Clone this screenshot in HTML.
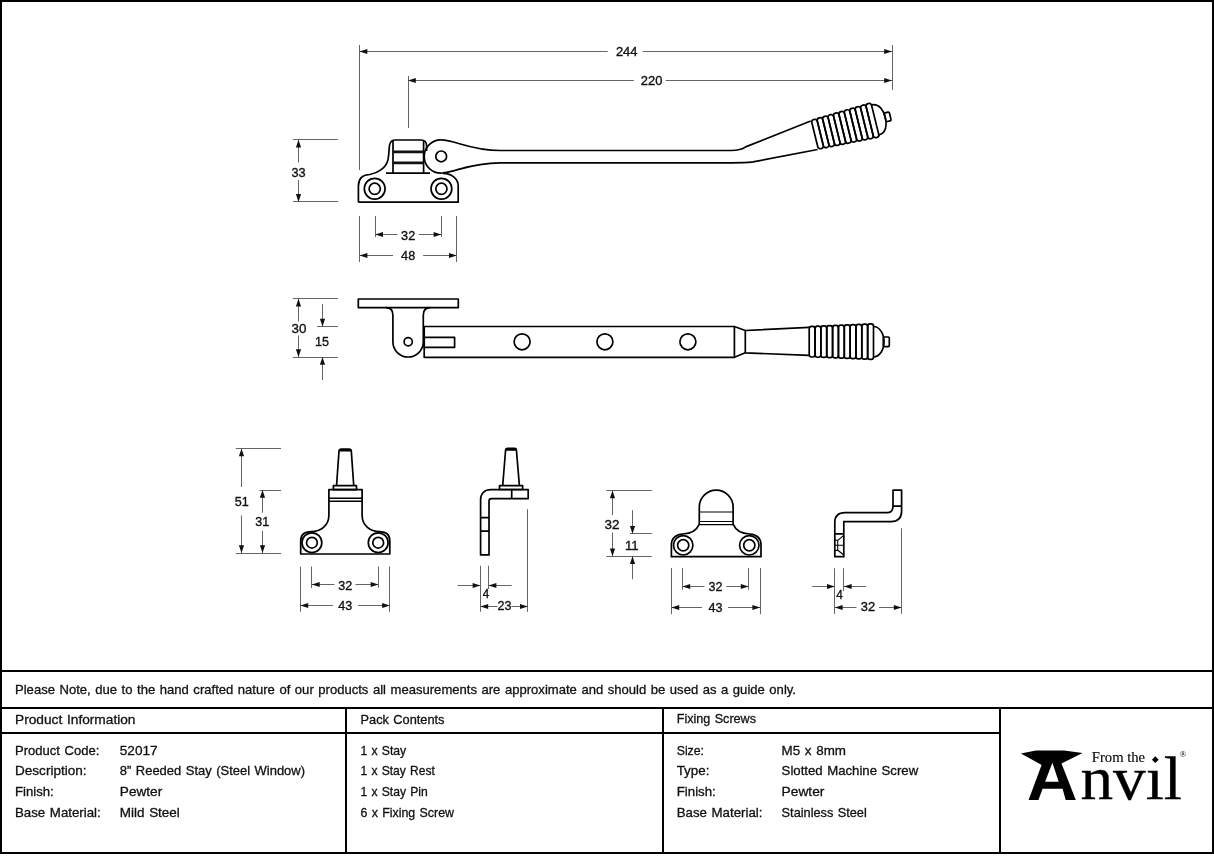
<!DOCTYPE html><html><head><meta charset="utf-8"><style>html,body{margin:0;padding:0;background:#fff;width:1214px;height:858px;overflow:hidden;position:relative}</style></head><body><svg width="1214" height="858" viewBox="0 0 1214 858" style="position:absolute;left:0;top:0;will-change:transform">
<style>.d{font-family:"Liberation Sans",sans-serif;fill:#111;stroke:#111;stroke-width:0.35}.t{font-family:"Liberation Sans",sans-serif;fill:#111;stroke:#111;stroke-width:0.3;font-size:13px;word-spacing:0.9px}.p{fill:none;stroke:#000;stroke-width:1.7;stroke-linejoin:round}</style>
<rect x="0" y="0" width="1214" height="858" fill="#fff"/>
<line x1="359.5" y1="45" x2="359.5" y2="170" stroke="#66665e" stroke-width="1.0"/>
<line x1="408.5" y1="76" x2="408.5" y2="128" stroke="#66665e" stroke-width="1.0"/>
<line x1="892.5" y1="45" x2="892.5" y2="90" stroke="#66665e" stroke-width="1.0"/>
<line x1="359.5" y1="51.5" x2="607.7" y2="51.5" stroke="#66665e" stroke-width="1.0"/>
<line x1="642.8" y1="51.5" x2="892" y2="51.5" stroke="#66665e" stroke-width="1.0"/>
<polygon points="359.50,51.50 367.30,48.90 367.30,54.10" fill="#111"/>
<polygon points="892.00,51.50 884.20,48.90 884.20,54.10" fill="#111"/>
<text x="615.9" y="56" font-size="13.2" textLength="21.600000000000023" lengthAdjust="spacingAndGlyphs" class="d">244</text>
<line x1="408" y1="80.5" x2="633.8" y2="80.5" stroke="#66665e" stroke-width="1.0"/>
<line x1="665.7" y1="80.5" x2="892" y2="80.5" stroke="#66665e" stroke-width="1.0"/>
<polygon points="408.00,80.50 415.80,77.90 415.80,83.10" fill="#111"/>
<polygon points="892.00,80.50 884.20,77.90 884.20,83.10" fill="#111"/>
<text x="640.8" y="84.8" font-size="13.2" textLength="21.600000000000023" lengthAdjust="spacingAndGlyphs" class="d">220</text>
<line x1="292.9" y1="139.5" x2="338.1" y2="139.5" stroke="#66665e" stroke-width="1.0"/>
<line x1="292.9" y1="201.5" x2="338.1" y2="201.5" stroke="#66665e" stroke-width="1.0"/>
<line x1="298.5" y1="139.8" x2="298.5" y2="162.6" stroke="#66665e" stroke-width="1.0"/>
<line x1="298.5" y1="179.9" x2="298.5" y2="201.9" stroke="#66665e" stroke-width="1.0"/>
<polygon points="298.50,139.80 295.90,147.60 301.10,147.60" fill="#111"/>
<polygon points="298.50,201.90 295.90,194.10 301.10,194.10" fill="#111"/>
<text x="291.5" y="176.6" font-size="13.2" textLength="14.199999999999989" lengthAdjust="spacingAndGlyphs" class="d">33</text>
<line x1="359.5" y1="216" x2="359.5" y2="262" stroke="#66665e" stroke-width="1.0"/>
<line x1="375.5" y1="216" x2="375.5" y2="237" stroke="#66665e" stroke-width="1.0"/>
<line x1="441.5" y1="216" x2="441.5" y2="237" stroke="#66665e" stroke-width="1.0"/>
<line x1="456.5" y1="216" x2="456.5" y2="262" stroke="#66665e" stroke-width="1.0"/>
<line x1="375.2" y1="234.5" x2="397.4" y2="234.5" stroke="#66665e" stroke-width="1.0"/>
<line x1="418.7" y1="234.5" x2="441.4" y2="234.5" stroke="#66665e" stroke-width="1.0"/>
<polygon points="375.20,234.50 383.00,231.90 383.00,237.10" fill="#111"/>
<polygon points="441.40,234.50 433.60,231.90 433.60,237.10" fill="#111"/>
<text x="401.1" y="239.6" font-size="13.2" textLength="14.099999999999966" lengthAdjust="spacingAndGlyphs" class="d">32</text>
<line x1="359.6" y1="255.5" x2="393" y2="255.5" stroke="#66665e" stroke-width="1.0"/>
<line x1="423.1" y1="255.5" x2="456.8" y2="255.5" stroke="#66665e" stroke-width="1.0"/>
<polygon points="359.60,255.50 367.40,252.90 367.40,258.10" fill="#111"/>
<polygon points="456.80,255.50 449.00,252.90 449.00,258.10" fill="#111"/>
<text x="401.1" y="259.9" font-size="13.2" textLength="14.099999999999966" lengthAdjust="spacingAndGlyphs" class="d">48</text>
<path class="p" d="M358.4,202.2 H458.2 V186 C458.2,178.5 452,173.8 443,173.4"/>
<path class="p" d="M358.4,202.2 V186 C358.4,178.5 363,174.8 369.8,174.5 C378,173 386,168 388,159.7 C389.5,152 388.8,146 390,143.5 C391,141 392.5,140 395,140 H421 C424.5,140 426.6,142.5 426.6,146 V151"/>
<path class="p" d="M393,141 V173.2 M423.6,141 V173.2 M386,173.2 H430"/>
<path d="M393,151.9 H423.6 M393,162.9 H423.6" stroke="#111" stroke-width="2.6"/>
<circle class="p" cx="374.7" cy="188.8" r="10.4"/><circle class="p" cx="374.7" cy="188.8" r="5.6"/>
<circle class="p" cx="441.4" cy="188.8" r="10.4"/><circle class="p" cx="441.4" cy="188.8" r="5.6"/>
<path class="p" d="M441.2,139.9 A16.6,16.6 0 1 0 442.6,173"/>
<circle class="p" cx="441.2" cy="156.4" r="5.4"/>
<path class="p" d="M441.2,139.9 C455,139.9 470,150.5 500,150.5 H731.3 C737.5,150.5 742,149.6 745.6,146.9 L810.7,121"/>
<path class="p" d="M442.4,172.9 C456,172 470,162.8 500,162.8 H731.3 C741,162.8 748,162.5 753,161.9 L817.6,149.5"/>
<g transform="translate(815.3,134.6) rotate(-13.8)">
<rect class="p" x="-0.50" y="-15.00" width="5.65" height="30.00" rx="2.6" ry="2.6"/>
<rect class="p" x="5.15" y="-15.25" width="5.65" height="30.50" rx="2.6" ry="2.6"/>
<rect class="p" x="10.80" y="-15.50" width="5.65" height="31.00" rx="2.6" ry="2.6"/>
<rect class="p" x="16.45" y="-15.75" width="5.65" height="31.50" rx="2.6" ry="2.6"/>
<rect class="p" x="22.10" y="-16.00" width="5.65" height="32.00" rx="2.6" ry="2.6"/>
<rect class="p" x="27.75" y="-16.25" width="5.65" height="32.50" rx="2.6" ry="2.6"/>
<rect class="p" x="33.40" y="-16.50" width="5.65" height="33.00" rx="2.6" ry="2.6"/>
<rect class="p" x="39.05" y="-16.75" width="5.65" height="33.50" rx="2.6" ry="2.6"/>
<rect class="p" x="44.70" y="-17.00" width="5.65" height="34.00" rx="2.6" ry="2.6"/>
<rect class="p" x="50.35" y="-17.25" width="5.65" height="34.50" rx="2.6" ry="2.6"/>
<rect class="p" x="56.00" y="-17.50" width="5.65" height="35.00" rx="2.6" ry="2.6"/>
<path class="p" d="M61.65,-15.50 C69.53,-15.50 72.15,-6.98 72.15,0 C72.15,6.98 69.53,15.50 61.65,15.50"/>
<rect class="p" x="71.85" y="-4.5" width="5.3" height="9" rx="1.2"/>
</g>
<line x1="292.8" y1="298.5" x2="338" y2="298.5" stroke="#66665e" stroke-width="1.0"/>
<line x1="292.8" y1="357.5" x2="338" y2="357.5" stroke="#66665e" stroke-width="1.0"/>
<line x1="317" y1="326.5" x2="338" y2="326.5" stroke="#66665e" stroke-width="1.0"/>
<line x1="298.5" y1="298.7" x2="298.5" y2="321.5" stroke="#66665e" stroke-width="1.0"/>
<line x1="298.5" y1="335.5" x2="298.5" y2="357" stroke="#66665e" stroke-width="1.0"/>
<polygon points="298.50,298.70 295.90,306.50 301.10,306.50" fill="#111"/>
<polygon points="298.50,357.00 295.90,349.20 301.10,349.20" fill="#111"/>
<text x="291.5" y="332.8" font-size="13.2" textLength="14.899999999999977" lengthAdjust="spacingAndGlyphs" class="d">30</text>
<line x1="322.5" y1="304" x2="322.5" y2="326.5" stroke="#66665e" stroke-width="1.0"/>
<polygon points="322.50,326.50 319.90,318.70 325.10,318.70" fill="#111"/>
<line x1="322.5" y1="357" x2="322.5" y2="380" stroke="#66665e" stroke-width="1.0"/>
<polygon points="322.50,357.00 319.90,364.80 325.10,364.80" fill="#111"/>
<text x="315" y="346" font-size="13.2" textLength="14" lengthAdjust="spacingAndGlyphs" class="d">15</text>
<rect class="p" x="358.3" y="299" width="100" height="8.6"/>
<path class="p" d="M386,307.6 C390.5,307.6 392.9,310.5 392.9,315 V341.8 A15.2,15.2 0 0 0 423.3,341.8 V315 C423.3,310.5 425.7,307.6 430.2,307.6"/>
<circle class="p" cx="408.2" cy="341.8" r="4.1"/>
<path class="p" d="M424.2,326.5 H734.4 V357.3 H424.2 Z"/>
<rect class="p" x="424.2" y="337.4" width="30.4" height="9.9"/>
<circle class="p" cx="522.1" cy="341.8" r="8"/>
<circle class="p" cx="604.9" cy="341.8" r="8"/>
<circle class="p" cx="687.9" cy="341.8" r="8"/>
<path class="p" d="M734.4,326.5 L745.3,330.5 V352.8 L734.4,357.3 M745.3,330.5 L809.2,327.4 M745.3,352.8 L809.2,355.4"/>
<rect class="p" x="809.20" y="326.40" width="5.85" height="30.60" rx="2.4" ry="2.4"/>
<rect class="p" x="815.05" y="326.14" width="5.85" height="31.09" rx="2.4" ry="2.4"/>
<rect class="p" x="820.89" y="325.88" width="5.85" height="31.58" rx="2.4" ry="2.4"/>
<rect class="p" x="826.74" y="325.62" width="5.85" height="32.07" rx="2.4" ry="2.4"/>
<rect class="p" x="832.58" y="325.36" width="5.85" height="32.56" rx="2.4" ry="2.4"/>
<rect class="p" x="838.43" y="325.10" width="5.85" height="33.05" rx="2.4" ry="2.4"/>
<rect class="p" x="844.27" y="324.84" width="5.85" height="33.54" rx="2.4" ry="2.4"/>
<rect class="p" x="850.12" y="324.58" width="5.85" height="34.03" rx="2.4" ry="2.4"/>
<rect class="p" x="855.96" y="324.32" width="5.85" height="34.52" rx="2.4" ry="2.4"/>
<rect class="p" x="861.81" y="324.06" width="5.85" height="35.01" rx="2.4" ry="2.4"/>
<rect class="p" x="867.65" y="323.80" width="5.85" height="35.50" rx="2.4" ry="2.4"/>
<path class="p" d="M873.5,326.5 A10.5,15.25 0 0 1 873.5,357"/>
<rect class="p" x="883.3" y="337" width="6" height="9.6" rx="1"/>
<line x1="235.8" y1="448.5" x2="281" y2="448.5" stroke="#66665e" stroke-width="1.0"/>
<line x1="259.5" y1="490.5" x2="281" y2="490.5" stroke="#66665e" stroke-width="1.0"/>
<line x1="235.8" y1="553.5" x2="281" y2="553.5" stroke="#66665e" stroke-width="1.0"/>
<line x1="241.5" y1="448.4" x2="241.5" y2="487" stroke="#66665e" stroke-width="1.0"/>
<line x1="241.5" y1="515.5" x2="241.5" y2="553.1" stroke="#66665e" stroke-width="1.0"/>
<polygon points="241.50,448.40 238.90,456.20 244.10,456.20" fill="#111"/>
<polygon points="241.50,553.10 238.90,545.30 244.10,545.30" fill="#111"/>
<text x="234.7" y="506.1" font-size="13.2" textLength="14.0" lengthAdjust="spacingAndGlyphs" class="d">51</text>
<line x1="262.5" y1="490" x2="262.5" y2="512.7" stroke="#66665e" stroke-width="1.0"/>
<line x1="262.5" y1="531" x2="262.5" y2="553.1" stroke="#66665e" stroke-width="1.0"/>
<polygon points="262.50,490.00 259.90,497.80 265.10,497.80" fill="#111"/>
<polygon points="262.50,553.10 259.90,545.30 265.10,545.30" fill="#111"/>
<text x="255.2" y="525.5" font-size="13.2" textLength="14.0" lengthAdjust="spacingAndGlyphs" class="d">31</text>
<path class="p" d="M300.7,554 H389.8 V541 C389.8,535 386,531.7 379.5,531.7 C370.5,531.7 362.1,526 362.1,515 V489.6 H328.9 V515 C328.9,526 320.5,531.7 311.2,531.7 C304.5,531.7 300.7,535 300.7,541 Z"/>
<path d="M328.9,498.2 H362.1 M328.9,501.3 H362.1" stroke="#000" stroke-width="1.4"/>
<rect class="p" x="333.4" y="485.7" width="23.1" height="3.9"/>
<path class="p" d="M336.6,485 L339,451 Q339.2,449.1 341.2,449.1 H349.1 Q351.1,449.1 351.3,451 L353.7,485 M339.1,450.6 H351.2"/>
<circle class="p" cx="311.9" cy="542.7" r="9.9"/><circle class="p" cx="311.9" cy="542.7" r="5.4"/>
<circle class="p" cx="378.2" cy="542.7" r="9.9"/><circle class="p" cx="378.2" cy="542.7" r="5.4"/>
<line x1="300.5" y1="566.5" x2="300.5" y2="611.8" stroke="#66665e" stroke-width="1.0"/>
<line x1="389.5" y1="566.5" x2="389.5" y2="611.8" stroke="#66665e" stroke-width="1.0"/>
<line x1="311.5" y1="566.5" x2="311.5" y2="588" stroke="#66665e" stroke-width="1.0"/>
<line x1="378.5" y1="566.5" x2="378.5" y2="588" stroke="#66665e" stroke-width="1.0"/>
<line x1="311.9" y1="584.5" x2="334.5" y2="584.5" stroke="#66665e" stroke-width="1.0"/>
<line x1="355.5" y1="584.5" x2="378.5" y2="584.5" stroke="#66665e" stroke-width="1.0"/>
<polygon points="311.90,584.50 319.70,581.90 319.70,587.10" fill="#111"/>
<polygon points="378.50,584.50 370.70,581.90 370.70,587.10" fill="#111"/>
<text x="338.2" y="590" font-size="13.2" textLength="14.0" lengthAdjust="spacingAndGlyphs" class="d">32</text>
<line x1="300.4" y1="605.5" x2="333" y2="605.5" stroke="#66665e" stroke-width="1.0"/>
<line x1="358" y1="605.5" x2="389.9" y2="605.5" stroke="#66665e" stroke-width="1.0"/>
<polygon points="300.40,605.50 308.20,602.90 308.20,608.10" fill="#111"/>
<polygon points="389.90,605.50 382.10,602.90 382.10,608.10" fill="#111"/>
<text x="338.2" y="610" font-size="13.2" textLength="14.0" lengthAdjust="spacingAndGlyphs" class="d">43</text>
<path class="p" d="M480.6,554.9 V500 C480.6,493.5 484.5,489.6 491,489.6 H528.2 V498.6 H491.5 Q489,498.6 489,501.1 V554.9 Z"/>
<path class="p" d="M511.7,489.6 V498.6 M480.6,517.6 H489 M480.6,531.2 H489"/>
<rect class="p" x="499.5" y="485.6" width="23.1" height="3.9"/>
<path class="p" d="M502.7,485.7 L505.6,450 Q505.8,448.4 507.5,448.4 H514.6 Q516.3,448.4 516.4,450 L519.4,485.7 M505.7,449.8 H516.3"/>
<line x1="480.5" y1="565.8" x2="480.5" y2="611.9" stroke="#66665e" stroke-width="1.0"/>
<line x1="488.5" y1="565.8" x2="488.5" y2="589" stroke="#66665e" stroke-width="1.0"/>
<line x1="527.5" y1="509.2" x2="527.5" y2="611.9" stroke="#66665e" stroke-width="1.0"/>
<line x1="457.6" y1="585.5" x2="480.4" y2="585.5" stroke="#66665e" stroke-width="1.0"/>
<polygon points="480.40,585.50 472.60,582.90 472.60,588.10" fill="#111"/>
<line x1="488.6" y1="585.5" x2="511.7" y2="585.5" stroke="#66665e" stroke-width="1.0"/>
<polygon points="488.60,585.50 496.40,582.90 496.40,588.10" fill="#111"/>
<text x="482.7" y="598" font-size="13.2" textLength="6.5" lengthAdjust="spacingAndGlyphs" class="d">4</text>
<line x1="480.4" y1="606.5" x2="497.4" y2="606.5" stroke="#66665e" stroke-width="1.0"/>
<line x1="511.5" y1="606.5" x2="527.8" y2="606.5" stroke="#66665e" stroke-width="1.0"/>
<polygon points="480.40,606.50 488.20,603.90 488.20,609.10" fill="#111"/>
<polygon points="527.80,606.50 520.00,603.90 520.00,609.10" fill="#111"/>
<text x="497.5" y="610.3" font-size="13.2" textLength="14.0" lengthAdjust="spacingAndGlyphs" class="d">23</text>
<line x1="606.4" y1="490.5" x2="651.8" y2="490.5" stroke="#66665e" stroke-width="1.0"/>
<line x1="630" y1="533.5" x2="651.8" y2="533.5" stroke="#66665e" stroke-width="1.0"/>
<line x1="606.4" y1="556.5" x2="651.8" y2="556.5" stroke="#66665e" stroke-width="1.0"/>
<line x1="612.5" y1="490.4" x2="612.5" y2="515" stroke="#66665e" stroke-width="1.0"/>
<line x1="612.5" y1="532.5" x2="612.5" y2="556.2" stroke="#66665e" stroke-width="1.0"/>
<polygon points="612.50,490.40 609.90,498.20 615.10,498.20" fill="#111"/>
<polygon points="612.50,556.20 609.90,548.40 615.10,548.40" fill="#111"/>
<text x="604.6" y="528.5" font-size="13.2" textLength="14.899999999999977" lengthAdjust="spacingAndGlyphs" class="d">32</text>
<line x1="632.5" y1="510.2" x2="632.5" y2="533.8" stroke="#66665e" stroke-width="1.0"/>
<polygon points="632.50,533.80 629.90,526.00 635.10,526.00" fill="#111"/>
<line x1="632.5" y1="556.2" x2="632.5" y2="579.2" stroke="#66665e" stroke-width="1.0"/>
<polygon points="632.50,556.20 629.90,564.00 635.10,564.00" fill="#111"/>
<text x="625" y="549.5" font-size="13.2" textLength="13.700000000000045" lengthAdjust="spacingAndGlyphs" class="d">11</text>
<path class="p" d="M671.4,556.7 H761 V545 C761,538.5 757,534.5 749.5,534 C742.5,533.8 736,531 733.1,524.2 V507 A16.9,16.9 0 0 0 699.3,507 V524.2 C696.4,531 690,533.8 683,534 C675.5,534.5 671.4,538.5 671.4,545 Z"/>
<path d="M699.3,512 H733.1 M699.3,521.5 H733.1 M699.3,524.6 H733.1" stroke="#000" stroke-width="1.15"/>
<circle class="p" cx="683.2" cy="545.3" r="9.7"/><circle class="p" cx="683.2" cy="545.3" r="5.6"/>
<circle class="p" cx="749.3" cy="545.3" r="9.7"/><circle class="p" cx="749.3" cy="545.3" r="5.6"/>
<line x1="671.5" y1="567.9" x2="671.5" y2="614.2" stroke="#66665e" stroke-width="1.0"/>
<line x1="760.5" y1="567.9" x2="760.5" y2="614.2" stroke="#66665e" stroke-width="1.0"/>
<line x1="682.5" y1="567.9" x2="682.5" y2="589.7" stroke="#66665e" stroke-width="1.0"/>
<line x1="748.5" y1="567.9" x2="748.5" y2="589.7" stroke="#66665e" stroke-width="1.0"/>
<line x1="682.4" y1="586.5" x2="704.5" y2="586.5" stroke="#66665e" stroke-width="1.0"/>
<line x1="726.3" y1="586.5" x2="748.6" y2="586.5" stroke="#66665e" stroke-width="1.0"/>
<polygon points="682.40,586.50 690.20,583.90 690.20,589.10" fill="#111"/>
<polygon points="748.60,586.50 740.80,583.90 740.80,589.10" fill="#111"/>
<text x="708.6" y="591.2" font-size="13.2" textLength="14.0" lengthAdjust="spacingAndGlyphs" class="d">32</text>
<line x1="671.4" y1="607.5" x2="702" y2="607.5" stroke="#66665e" stroke-width="1.0"/>
<line x1="728" y1="607.5" x2="760.2" y2="607.5" stroke="#66665e" stroke-width="1.0"/>
<polygon points="671.40,607.50 679.20,604.90 679.20,610.10" fill="#111"/>
<polygon points="760.20,607.50 752.40,604.90 752.40,610.10" fill="#111"/>
<text x="708.6" y="611.5" font-size="13.2" textLength="14.0" lengthAdjust="spacingAndGlyphs" class="d">43</text>
<path class="p" d="M834.8,556.7 V522.5 C834.8,516 838.5,512.7 845,512.7 H887 C891,512.7 893,510.5 893,506 V490.1 H901.6 V511 C901.6,518 897.5,521.6 891,521.6 H843.8 V556.7 Z"/>
<path class="p" d="M893,506.1 H901.6 M834.8,533.9 H843.8"/>
<path d="M834.8,539.9 L837.7,540.5 L843.8,535.3 M837.7,540.5 V550.2 M834.8,550.6 L837.7,550.2 L843.8,555 M834.8,545.3 H843.8" fill="none" stroke="#000" stroke-width="1.1"/>
<line x1="834.5" y1="568.2" x2="834.5" y2="613.9" stroke="#66665e" stroke-width="1.0"/>
<line x1="843.5" y1="568.2" x2="843.5" y2="591" stroke="#66665e" stroke-width="1.0"/>
<line x1="901.5" y1="528.2" x2="901.5" y2="613.9" stroke="#66665e" stroke-width="1.0"/>
<line x1="812.2" y1="586.5" x2="834.8" y2="586.5" stroke="#66665e" stroke-width="1.0"/>
<polygon points="834.80,586.50 827.00,583.90 827.00,589.10" fill="#111"/>
<line x1="843.8" y1="586.5" x2="866.1" y2="586.5" stroke="#66665e" stroke-width="1.0"/>
<polygon points="843.80,586.50 851.60,583.90 851.60,589.10" fill="#111"/>
<text x="836.2" y="599.2" font-size="13.2" textLength="6.599999999999909" lengthAdjust="spacingAndGlyphs" class="d">4</text>
<line x1="834.8" y1="607.5" x2="856.5" y2="607.5" stroke="#66665e" stroke-width="1.0"/>
<line x1="879" y1="607.5" x2="901.6" y2="607.5" stroke="#66665e" stroke-width="1.0"/>
<polygon points="834.80,607.50 842.60,604.90 842.60,610.10" fill="#111"/>
<polygon points="901.60,607.50 893.80,604.90 893.80,610.10" fill="#111"/>
<text x="860.7" y="611.4" font-size="13.2" textLength="14.399999999999977" lengthAdjust="spacingAndGlyphs" class="d">32</text>
<rect x="1" y="1" width="1212" height="852" fill="none" stroke="#000" stroke-width="2"/>
<path d="M0,671 H1214 M0,708 H1214 M0,733 H1000 M346,708 V853 M663,708 V853 M1000,708 V853" stroke="#000" stroke-width="2"/>
<text x="15" y="694.3" textLength="781" lengthAdjust="spacingAndGlyphs" class="t">Please Note, due to the hand crafted nature of our products all measurements are approximate and should be used as a guide only.</text>
<text x="15" y="724" textLength="120.5" lengthAdjust="spacingAndGlyphs" class="t">Product Information</text>
<text x="360.5" y="723.5" textLength="84.0" lengthAdjust="spacingAndGlyphs" class="t">Pack Contents</text>
<text x="676.7" y="723.3" textLength="79.29999999999995" lengthAdjust="spacingAndGlyphs" class="t">Fixing Screws</text>
<text x="15" y="754.6" textLength="84.3" lengthAdjust="spacingAndGlyphs" class="t">Product Code:</text>
<text x="15" y="775.4" textLength="71.6" lengthAdjust="spacingAndGlyphs" class="t">Description:</text>
<text x="15" y="796.2" textLength="38.7" lengthAdjust="spacingAndGlyphs" class="t">Finish:</text>
<text x="15" y="817" textLength="85.7" lengthAdjust="spacingAndGlyphs" class="t">Base Material:</text>
<text x="119.8" y="754.6" textLength="37.8" lengthAdjust="spacingAndGlyphs" class="t">52017</text>
<text x="119.8" y="775.4" textLength="185.2" lengthAdjust="spacingAndGlyphs" class="t">8” Reeded Stay (Steel Window)</text>
<text x="119.8" y="796.2" textLength="42.39999999999999" lengthAdjust="spacingAndGlyphs" class="t">Pewter</text>
<text x="119.8" y="817" textLength="60.000000000000014" lengthAdjust="spacingAndGlyphs" class="t">Mild Steel</text>
<text x="360.5" y="754.6" textLength="45.69999999999999" lengthAdjust="spacingAndGlyphs" class="t">1 x Stay</text>
<text x="360.5" y="775.4" textLength="74.30000000000001" lengthAdjust="spacingAndGlyphs" class="t">1 x Stay Rest</text>
<text x="360.5" y="796.2" textLength="67.19999999999999" lengthAdjust="spacingAndGlyphs" class="t">1 x Stay Pin</text>
<text x="360.5" y="817" textLength="93.5" lengthAdjust="spacingAndGlyphs" class="t">6 x Fixing Screw</text>
<text x="676.7" y="754.6" textLength="27.299999999999955" lengthAdjust="spacingAndGlyphs" class="t">Size:</text>
<text x="676.7" y="775.4" textLength="32.69999999999993" lengthAdjust="spacingAndGlyphs" class="t">Type:</text>
<text x="676.7" y="796.2" textLength="39.09999999999991" lengthAdjust="spacingAndGlyphs" class="t">Finish:</text>
<text x="676.7" y="817" textLength="85.79999999999995" lengthAdjust="spacingAndGlyphs" class="t">Base Material:</text>
<text x="781.6" y="754.6" textLength="64.39999999999998" lengthAdjust="spacingAndGlyphs" class="t">M5 x 8mm</text>
<text x="781.6" y="775.4" textLength="136.60000000000002" lengthAdjust="spacingAndGlyphs" class="t">Slotted Machine Screw</text>
<text x="781.6" y="796.2" textLength="42.799999999999955" lengthAdjust="spacingAndGlyphs" class="t">Pewter</text>
<text x="781.6" y="817" textLength="85.19999999999993" lengthAdjust="spacingAndGlyphs" class="t">Stainless Steel</text>
<path fill-rule="evenodd" fill="#000" d="M1020.9,753.4 L1036,750.6 H1064 L1082.5,753 L1061.5,763.5 L1075.8,799.9 H1065.7 L1062.6,788.7 H1042.6 L1038.4,799.9 H1028.6 L1041.6,764.9 Z M1045.1,781.7 L1052.4,762.8 L1058.7,781.7 Z"/>
<text x="1091.8" y="762" font-size="15" textLength="53.3" lengthAdjust="spacingAndGlyphs" style="font-family:'Liberation Serif',serif;fill:#000;stroke:#000;stroke-width:0.1">From the</text>
<text x="1080.5" y="799" font-size="62" textLength="101.5" lengthAdjust="spacingAndGlyphs" style="font-family:'Liberation Serif',serif;fill:#000;stroke:#000;stroke-width:0.3">nvıl</text>
<path d="M1155.3,756.3 L1158.7,759.7 L1155.3,763.1 L1151.9,759.7 Z" fill="#000"/>
<text x="1179.5" y="757" font-size="9" style="font-family:'Liberation Serif',serif;fill:#000">®</text>
</svg></body></html>
